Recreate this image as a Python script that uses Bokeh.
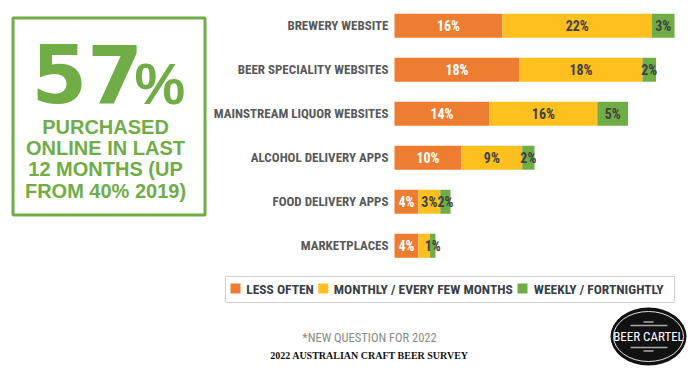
from bokeh.plotting import figure
from bokeh.models import Range1d
from bokeh.core.properties import value
from bokeh.embed import file_html
from bokeh.resources import INLINE

# ---- data ----
channels = ["BREWERY WEBSITE", "BEER SPECIALITY WEBSITES", "MAINSTREAM LIQUOR WEBSITES",
            "ALCOHOL DELIVERY APPS", "FOOD DELIVERY APPS", "MARKETPLACES"]
less_often = [15.8, 18.3, 13.9, 9.8, 3.5, 3.5]
monthly = [21.9, 18.0, 15.8, 8.9, 3.2, 1.7]
weekly = [3.3, 2.0, 4.5, 1.8, 1.5, 0.8]
less_labels = ["16%", "18%", "14%", "10%", "4%", "4%"]
monthly_labels = ["22%", "18%", "16%", "9%", "3%", ""]
weekly_labels = ["3%", "2%", "5%", "2%", "2%", "1%"]
series_names = ["LESS OFTEN", "MONTHLY / EVERY FEW MONTHS", "WEEKLY / FORTNIGHTLY"]
headline = "57"
headline_lines = ["PURCHASED", "ONLINE IN LAST", "12 MONTHS (UP", "FROM 40% 2019)"]
footnote = "*NEW QUESTION FOR 2022"
source = "2022 AUSTRALIAN CRAFT BEER SURVEY"
logo_text = "BEER CARTEL"

ORANGE = "#ED7D31"
YELLOW = "#FDC01E"
GREEN = "#70AD47"
colors = [ORANGE, YELLOW, GREEN]
COND = value("Roboto Condensed")

W, H = 700, 371
p = figure(width=W, height=H, output_backend="svg", toolbar_location=None,
           x_range=Range1d(0, W), y_range=Range1d(H, 0),
           x_axis_type=None, y_axis_type=None, min_border=0,
           outline_line_color=None)
p.grid.visible = False

# bar scales (percent on x, row index on y)
px_per_pct = 6.83
origin = 394
p.extra_x_ranges = {"pct": Range1d(-origin / px_per_pct, (W - origin) / px_per_pct)}
row_step, first_row = 44.0, 25.3
p.extra_y_ranges = {"row": Range1d((H - first_row) / row_step, -first_row / row_step)}

rows = list(range(len(channels)))
left = [0.0] * len(rows)
for vals, labs, col, txtcol in [(less_often, less_labels, ORANGE, "white"),
                                (monthly, monthly_labels, YELLOW, "#404040"),
                                (weekly, weekly_labels, GREEN, "#404040")]:
    right = [l + v for l, v in zip(left, vals)]
    p.hbar(y=rows, left=left, right=right, height=0.545, fill_color=col,
           line_color=None, x_range_name="pct", y_range_name="row")
    mids = [(l + r) / 2 for l, r in zip(left, right)]
    p.text(x=mids, y=rows, text=labs, x_range_name="pct", y_range_name="row",
           text_align="center", text_baseline="middle", text_color=txtcol,
           text_font=COND, text_font_style="bold", text_font_size="14px")
    left = right

# category labels
p.text(x=[0] * len(rows), y=rows, text=channels, x_offset=-6,
       x_range_name="pct", y_range_name="row",
       text_align="right", text_baseline="middle", text_color="#595959",
       text_font=COND, text_font_style="bold", text_font_size="13px")

# left headline box
p.quad(left=[12.5], right=[204.5], top=[17.5], bottom=[214.5],
       fill_color=None, line_color=GREEN, line_width=3)
p.text(x=[31], y=[73], text=[headline], text_align="left", text_baseline="middle",
       text_color=GREEN, text_font=value("DejaVu Sans"), text_font_style="bold",
       text_font_size="80px")
p.text(x=[134], y=[83], text=["%"], text_align="left", text_baseline="middle",
       text_color=GREEN, text_font=value("Liberation Sans"), text_font_style="bold",
       text_font_size="57px")
p.text(x=[105] * 4, y=[126, 147, 168.5, 190], text=headline_lines,
       text_align="center", text_baseline="middle", text_color=GREEN,
       text_font=value("Liberation Sans"), text_font_style="bold", text_font_size="20px")

# legend
p.quad(left=[225], right=[674], top=[276], bottom=[302],
       fill_color="white", line_color="#D0D0D0", line_width=1)
sq_x = [235, 322.8, 522]
txt_x = [245.7, 333.3, 533.3]
p.rect(x=sq_x, y=[288] * 3, width=10, height=10, fill_color=colors, line_color=None)
p.text(x=txt_x, y=[288] * 3, text=series_names, text_align="left", text_baseline="middle",
       text_color="#3B3F47", text_font=COND, text_font_style="bold",
       text_font_size="13.5px")

# footer
p.text(x=[369], y=[337], text=[footnote], text_align="center", text_baseline="middle",
       text_color="#8A8A8A", text_font=COND, text_font_size="12.5px")
p.text(x=[369], y=[355], text=[source], text_align="center", text_baseline="middle",
       text_color="#111111", text_font=value("Liberation Serif"), text_font_style="bold",
       text_font_size="10px")

# logo
p.ellipse(x=[648], y=[336], width=[76], height=[58], fill_color="#111111", line_color=None)
p.ellipse(x=[648], y=[336], width=[70], height=[50], fill_color=None,
          line_color="#E0E0E0", line_width=1)
p.text(x=[648], y=[336], text=[logo_text], text_align="center", text_baseline="middle",
       text_color="white", text_font=COND, text_font_size="13px")
p.multi_line(xs=[[630, 667], [630, 667], [643, 653], [643, 653]],
             ys=[[325, 325], [347, 347], [321.5, 321.5], [350.5, 350.5]],
             line_color="#A8A8A8", line_width=1.5)

open("out.html", "w").write(file_html(p, INLINE))
